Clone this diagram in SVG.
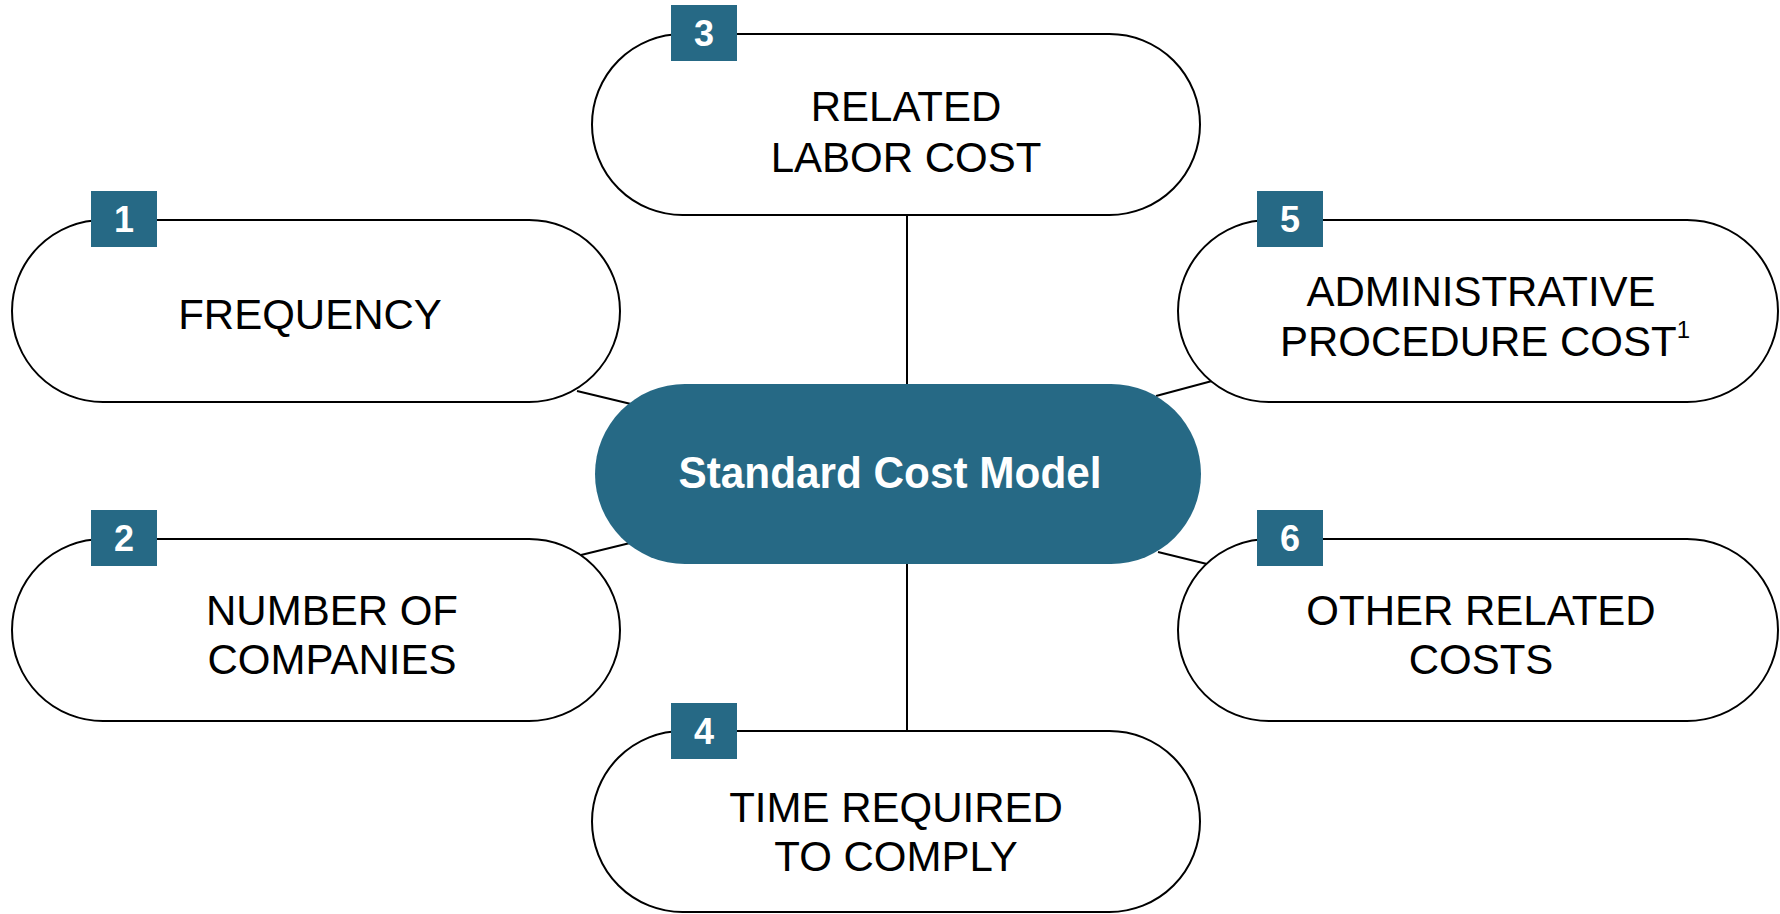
<svg xmlns="http://www.w3.org/2000/svg" width="1780" height="914" viewBox="0 0 1780 914">
<style>
.pill{fill:#fff;stroke:#000;stroke-width:2}
.core{fill:#266985}
.badge{fill:#266985}
.num{font-family:"Liberation Sans",Arial,sans-serif;font-weight:bold;font-size:36px;fill:#fff;text-anchor:middle}
.lbl{font-family:"Liberation Sans",Arial,sans-serif;font-size:42px;fill:#000;text-anchor:middle}
.title{font-family:"Liberation Sans",Arial,sans-serif;font-weight:bold;font-size:44px;fill:#fff;text-anchor:middle}
.conn{stroke:#000;stroke-width:2;fill:none}
</style>
<rect width="1780" height="914" fill="#fff"/>
<g id="connectors">
<line class="conn" x1="577" y1="391" x2="631" y2="404"/>
<line class="conn" x1="581" y1="555" x2="630" y2="543"/>
<line class="conn" x1="907" y1="215" x2="907" y2="384"/>
<line class="conn" x1="907" y1="564" x2="907" y2="731"/>
<line class="conn" x1="1212" y1="381" x2="1156" y2="396"/>
<line class="conn" x1="1158" y1="552" x2="1207" y2="564"/>
</g>
<g id="node-center">
<rect class="core" x="595" y="384" width="606" height="180" rx="90"/>
<text class="title" x="890" y="488" textLength="423" lengthAdjust="spacingAndGlyphs">Standard Cost Model</text>
</g>
<g id="node-1">
<rect class="pill" x="12" y="220" width="608" height="182" rx="91"/>
<rect class="badge" x="91" y="191" width="66" height="56"/>
<text class="num" x="124" y="232">1</text>
<text class="lbl" x="310" y="329">FREQUENCY</text>
</g>
<g id="node-2">
<rect class="pill" x="12" y="539" width="608" height="182" rx="91"/>
<rect class="badge" x="91" y="510" width="66" height="56"/>
<text class="num" x="124" y="551">2</text>
<text class="lbl" x="332" y="625">NUMBER OF</text>
<text class="lbl" x="332" y="674">COMPANIES</text>
</g>
<g id="node-3">
<rect class="pill" x="592" y="34" width="608" height="181" rx="90.5"/>
<rect class="badge" x="671" y="5" width="66" height="56"/>
<text class="num" x="704" y="46">3</text>
<text class="lbl" x="906" y="121">RELATED</text>
<text class="lbl" x="906" y="172">LABOR COST</text>
</g>
<g id="node-4">
<rect class="pill" x="592" y="731" width="608" height="181" rx="90.5"/>
<rect class="badge" x="671" y="703" width="66" height="56"/>
<text class="num" x="704" y="744">4</text>
<text class="lbl" x="896" y="822">TIME REQUIRED</text>
<text class="lbl" x="896" y="871">TO COMPLY</text>
</g>
<g id="node-5">
<rect class="pill" x="1178" y="220" width="600" height="182" rx="91"/>
<rect class="badge" x="1257" y="191" width="66" height="56"/>
<text class="num" x="1290" y="232">5</text>
<text class="lbl" x="1481" y="306">ADMINISTRATIVE</text>
<text class="lbl" x="1485" y="356">PROCEDURE COST<tspan font-size="24" dy="-18">1</tspan></text>
</g>
<g id="node-6">
<rect class="pill" x="1178" y="539" width="600" height="182" rx="91"/>
<rect class="badge" x="1257" y="510" width="66" height="56"/>
<text class="num" x="1290" y="551">6</text>
<text class="lbl" x="1481" y="625">OTHER RELATED</text>
<text class="lbl" x="1481" y="674">COSTS</text>
</g>
</svg>
